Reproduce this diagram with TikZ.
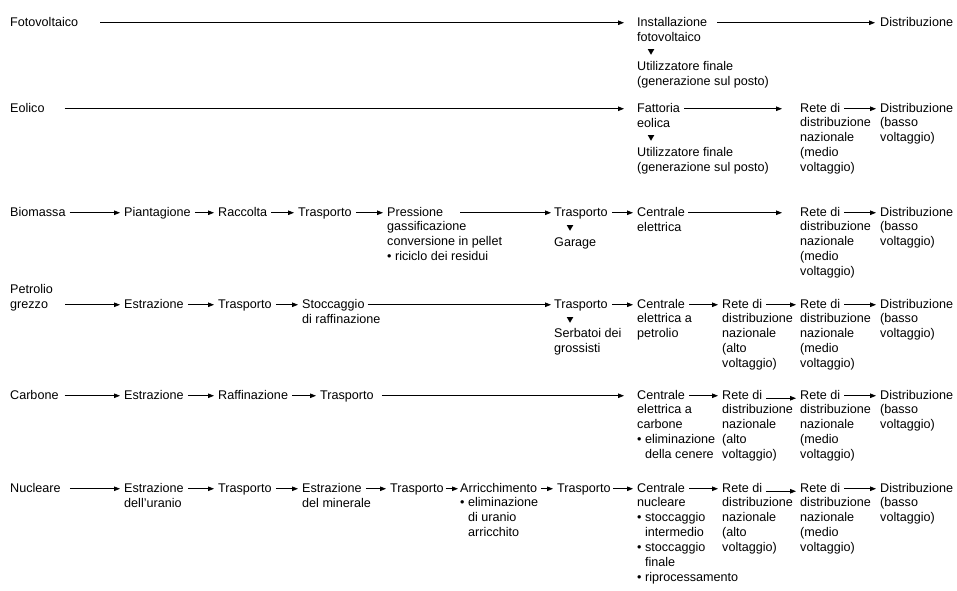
\documentclass[tikz,border=0pt]{standalone}
\usepackage{fontspec}
\setmainfont{Liberation Sans}
\usetikzlibrary{arrows.meta,shapes.geometric}
\newcommand{\bul}{\textbullet\ }
\newcommand{\hang}{\hphantom{\textbullet\ }}

\begin{document}
\begin{tikzpicture}[
    x=1pt, y=-1pt,
    font=\fontsize{12.6pt}{15pt}\selectfont,
    item/.style={anchor=base west, inner sep=0pt, text height=9.5pt, text depth=3pt},
    more/.style={anchor=north west, inner sep=0pt, align=left, yshift=10pt,
      execute at begin node={\rule{0pt}{10pt}}},
    arrow/.style={-{Triangle[length=6pt, width=4.5pt]}, line width=0.75pt, shorten <=4pt, shorten >=4pt},
    down/.style={regular polygon, regular polygon sides=3, shape border rotate=180, fill, inner sep=0pt, minimum size=7.5pt}
  ]
    \useasboundingbox (0,0) rectangle (957,590);

    % Fotovoltaico
    \node[item] (pv) at (10,26) {Fotovoltaico};
    \node[item] (pvInst) at (637,26) {Installazione};
    \node[more] (pvInst2) at (637,41) {fotovoltaico};
    \node[down] (pvDown) at (651,51) {};
    \node[more] (pvUser) at (637,71) {Utilizzatore finale\\(generazione sul posto)};
    \node[item] (pvDist) at (880,26) {Distribuzione};
    \draw[arrow, shorten <=22pt, shorten >=13pt] (pv) -- (pvInst);
    \draw[arrow, shorten <=10pt, shorten >=5pt] (pvInst) -- (pvDist);

    % Eolico
    \node[item] (wind) at (10,112) {Eolico};
    \node[item] (windFarm) at (637,112) {Fattoria};
    \node[more] (windFarm2) at (637,127) {eolica};
    \node[down] (windDown) at (651,137) {};
    \node[more] (windUser) at (637,157) {Utilizzatore finale\\(generazione sul posto)};
    \node[item] (windGrid) at (800,112) {Rete di};
    \node[more] (windGrid2) at (800,127) {distribuzione\\nazionale\\(medio\\voltaggio)};
    \node[item] (windDist) at (880,112) {Distribuzione};
    \node[more] (windDist2) at (880,127) {(basso\\voltaggio)};
    \draw[arrow, shorten <=20pt, shorten >=13pt] (wind) -- (windFarm);
    \draw[arrow, shorten >=18pt] (windFarm) -- (windGrid);
    \draw[arrow] (windGrid) -- (windDist);

    % Biomassa
    \node[item] (bio) at (10,216) {Biomassa};
    \node[item] (bioPlant) at (124,216) {Piantagione};
    \node[item] (bioHarv) at (218,216) {Raccolta};
    \node[item] (bioTrans) at (298,216) {Trasporto};
    \node[item] (bioPress) at (387,216) {Pressione};
    \node[more] (bioPress2) at (387,231) {gassificazione\\conversione in pellet\\\bul riciclo dei residui};
    \node[item] (bioTrans2) at (554,216) {Trasporto};
    \node[down] (bioDown) at (570,227) {};
    \node[more] (bioGarage) at (554,246) {Garage};
    \node[item] (bioCentr) at (637,216) {Centrale};
    \node[more] (bioCentr2) at (637,231) {elettrica};
    \node[item] (bioGrid) at (800,216) {Rete di};
    \node[more] (bioGrid2) at (800,231) {distribuzione\\nazionale\\(medio\\voltaggio)};
    \node[item] (bioDist) at (880,216) {Distribuzione};
    \node[more] (bioDist2) at (880,231) {(basso\\voltaggio)};
    \draw[arrow] (bio) -- (bioPlant);
    \draw[arrow] (bioPlant) -- (bioHarv);
    \draw[arrow] (bioHarv) -- (bioTrans);
    \draw[arrow] (bioTrans) -- (bioPress);
    \draw[arrow, shorten <=17pt, shorten >=3pt] (bioPress) -- (bioTrans2);
    \draw[arrow] (bioTrans2) -- (bioCentr);
    \draw[arrow, shorten <=3pt, shorten >=18pt] (bioCentr) -- (bioGrid);
    \draw[arrow] (bioGrid) -- (bioDist);

    % Petrolio grezzo
    \node[more] (oilTop) at (10,293) {Petrolio};
    \node[item] (oil) at (10,308) {grezzo};
    \node[item] (oilExtr) at (124,308) {Estrazione};
    \node[item] (oilTrans) at (218,308) {Trasporto};
    \node[item] (oilStore) at (302,308) {Stoccaggio};
    \node[more] (oilStore2) at (302,323) {di raffinazione};
    \node[item] (oilTrans2) at (554,308) {Trasporto};
    \node[down] (oilDown) at (570,319) {};
    \node[more] (oilTank) at (554,338) {Serbatoi dei\\grossisti};
    \node[item] (oilCentr) at (637,308) {Centrale};
    \node[more] (oilCentr2) at (637,323) {elettrica a\\petrolio};
    \node[item] (oilGridHi) at (722,308) {Rete di};
    \node[more] (oilGridHi2) at (722,323) {distribuzione\\nazionale\\(alto\\voltaggio)};
    \node[item] (oilGridMid) at (800,308) {Rete di};
    \node[more] (oilGridMid2) at (800,323) {distribuzione\\nazionale\\(medio\\voltaggio)};
    \node[item] (oilDist) at (880,308) {Distribuzione};
    \node[more] (oilDist2) at (880,323) {(basso\\voltaggio)};
    \draw[arrow, shorten <=17pt] (oil) -- (oilExtr);
    \draw[arrow] (oilExtr) -- (oilTrans);
    \draw[arrow] (oilTrans) -- (oilStore);
    \draw[arrow, shorten <=3pt, shorten >=3pt] (oilStore) -- (oilTrans2);
    \draw[arrow] (oilTrans2) -- (oilCentr);
    \draw[arrow] (oilCentr) -- (oilGridHi);
    \draw[arrow] (oilGridHi) -- (oilGridMid);
    \draw[arrow] (oilGridMid) -- (oilDist);

    % Carbone
    \node[item] (coal) at (10,399) {Carbone};
    \node[item] (coalExtr) at (124,399) {Estrazione};
    \node[item] (coalRef) at (218,399) {Raffinazione};
    \node[item] (coalTrans) at (320,399) {Trasporto};
    \node[item] (coalCentr) at (637,399) {Centrale};
    \node[more] (coalCentr2) at (637,414) {elettrica a\\carbone\\\bul eliminazione\\\hang della cenere};
    \node[item] (coalGridHi) at (722,399) {Rete di};
    \node[more] (coalGridHi2) at (722,414) {distribuzione\\nazionale\\(alto\\voltaggio)};
    \node[item] (coalGridMid) at (800,399) {Rete di};
    \node[more] (coalGridMid2) at (800,414) {distribuzione\\nazionale\\(medio\\voltaggio)};
    \node[item] (coalDist) at (880,399) {Distribuzione};
    \node[more] (coalDist2) at (880,414) {(basso\\voltaggio)};
    \draw[arrow, shorten <=6pt] (coal) -- (coalExtr);
    \draw[arrow] (coalExtr) -- (coalRef);
    \draw[arrow] (coalRef) -- (coalTrans);
    \draw[arrow, shorten <=8pt, shorten >=13pt] (coalTrans) -- (coalCentr);
    \draw[arrow] (coalCentr) -- (coalGridHi);
    \draw[arrow] ([yshift=-2.5pt]coalGridHi.east) -- ([yshift=-2.5pt]coalGridMid.west);
    \draw[arrow] (coalGridMid) -- (coalDist);

    % Nucleare
    \node[item] (nuc) at (10,492) {Nucleare};
    \node[item] (nucMine) at (124,492) {Estrazione};
    \node[more] (nucMine2) at (124,507) {dell’uranio};
    \node[item] (nucTrans) at (218,492) {Trasporto};
    \node[item] (nucOre) at (302,492) {Estrazione};
    \node[more] (nucOre2) at (302,507) {del minerale};
    \node[item] (nucTrans2) at (390,492) {Trasporto};
    \node[item] (nucEnr) at (460,492) {Arricchimento};
    \node[more] (nucEnr2) at (460,507) {\bul eliminazione\\\hang di uranio\\\hang arricchito};
    \node[item] (nucTrans3) at (557,492) {Trasporto};
    \node[item] (nucCentr) at (637,492) {Centrale};
    \node[more] (nucCentr2) at (637,507) {nucleare\\\bul stoccaggio\\\hang intermedio\\\bul stoccaggio\\\hang finale\\\bul riprocessamento};
    \node[item] (nucGridHi) at (722,492) {Rete di};
    \node[more] (nucGridHi2) at (722,507) {distribuzione\\nazionale\\(alto\\voltaggio)};
    \node[item] (nucGridMid) at (800,492) {Rete di};
    \node[more] (nucGridMid2) at (800,507) {distribuzione\\nazionale\\(medio\\voltaggio)};
    \node[item] (nucDist) at (880,492) {Distribuzione};
    \node[more] (nucDist2) at (880,507) {(basso\\voltaggio)};
    \draw[arrow, shorten <=9pt] (nuc) -- (nucMine);
    \draw[arrow] (nucMine) -- (nucTrans);
    \draw[arrow] (nucTrans) -- (nucOre);
    \draw[arrow] (nucOre) -- (nucTrans2);
    \draw[arrow, shorten <=2pt, shorten >=2pt] (nucTrans2) -- (nucEnr);
    \draw[arrow] (nucEnr) -- (nucTrans3);
    \draw[arrow, shorten <=2pt] (nucTrans3) -- (nucCentr);
    \draw[arrow] (nucCentr) -- (nucGridHi);
    \draw[arrow] ([yshift=-2.5pt]nucGridHi.east) -- ([yshift=-2.5pt]nucGridMid.west);
    \draw[arrow] (nucGridMid) -- (nucDist);
  \end{tikzpicture}
\end{document}
